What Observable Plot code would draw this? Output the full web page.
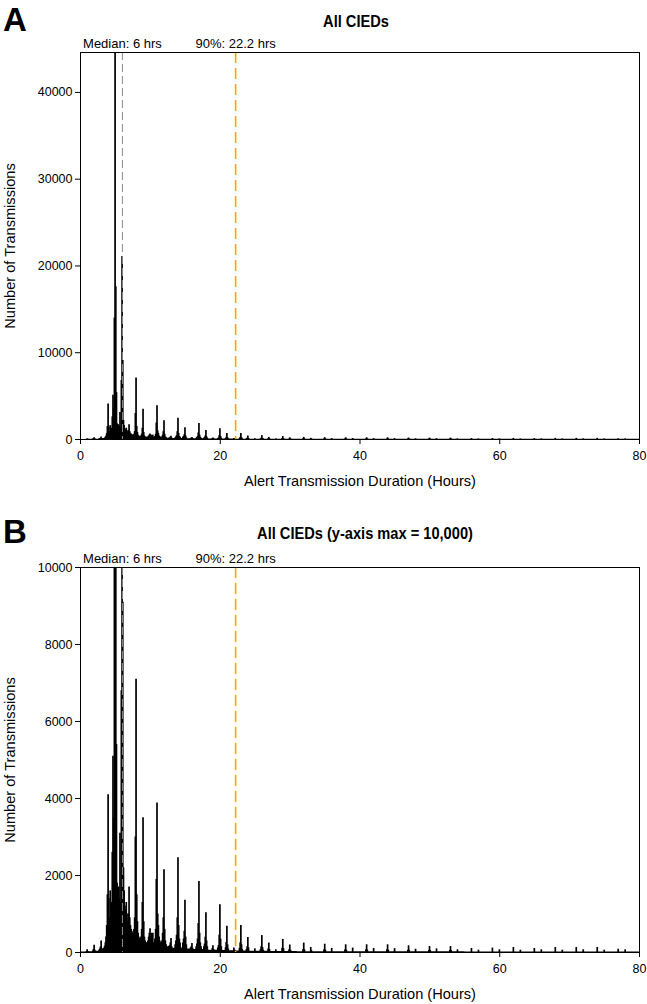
<!DOCTYPE html>
<html>
<head>
<meta charset="utf-8">
<script src="https://cdn.jsdelivr.net/npm/d3@7"></script>
<script src="https://cdn.jsdelivr.net/npm/@observablehq/plot@0.6"></script>
<style>
  html, body { margin: 0; padding: 0; background: #fff; }
  #wrap { position: relative; width: 647px; height: 1004px; overflow: hidden; font-family: "Liberation Sans", Arial, sans-serif; }
  .letter { position: absolute; z-index: 3; font-weight: bold; font-size: 33px; line-height: 1; font-family: "Liberation Sans", Arial, sans-serif; }
  .title { position: absolute; z-index: 3; font-weight: bold; font-size: 17px; line-height: 1; white-space: nowrap; transform: translate(-50%, -50%) scaleX(0.86); font-family: "Liberation Sans Narrow", "Liberation Sans", Arial, sans-serif; }
  .panel { position: absolute; left: 0; z-index: 1; }
</style>
</head>
<body>
<div id="wrap">
  <div class="panel" id="pA" style="top:0px;"></div>
  <div class="panel" id="pB" style="top:500px;"></div>
  <div class="letter" style="left:3px; top:3px;">A</div>
  <div class="title" style="left:356px; top:21px;">All CIEDs</div>
  <div class="letter" style="left:3px; top:515px;">B</div>
  <div class="title" style="left:365px; top:533px;">All CIEDs (y-axis max = 10,000)</div>
</div>
<script>
// Histogram bins (bin start, hours) and counts
const binHours = [
  0.8, 0.9, 1.0,
  1.7, 1.8, 1.9, 2.0,
  2.6, 2.7, 2.8, 2.9, 3.0, 3.1, 3.2, 3.3, 3.4,
  3.5, 3.6, 3.7, 3.8, 3.9, 4.0, 4.1, 4.2, 4.3, 4.4,
  4.5, 4.6, 4.7, 4.8, 4.9, 5.0, 5.1, 5.2, 5.3, 5.4,
  5.5, 5.6, 5.7, 5.8, 5.9, 6.0, 6.1, 6.2, 6.3, 6.4,
  6.5, 6.6, 6.7, 6.8, 6.9, 7.0, 7.1, 7.2, 7.3, 7.4,
  7.5, 7.6, 7.7, 7.8, 7.9, 8.0, 8.1, 8.2, 8.3, 8.4,
  8.5, 8.6, 8.7, 8.8, 8.9, 9.0, 9.1, 9.2, 9.3, 9.4,
  9.5, 9.6, 9.7, 9.8, 9.9, 10.0, 10.1, 10.2, 10.3, 10.4,
  10.5, 10.6, 10.7, 10.8, 10.9, 11.0, 11.1, 11.2, 11.3, 11.4,
  11.5, 11.6, 11.7, 11.8, 11.9, 12.0, 12.1, 12.2,
  12.6, 12.7, 12.8, 12.9, 13.0,
  13.5, 13.6, 13.7, 13.8, 13.9, 14.0, 14.1, 14.2,
  14.6, 14.7, 14.8, 14.9, 15.0, 15.1,
  15.7, 15.8, 15.9, 16.0,
  16.5, 16.6, 16.7, 16.8, 16.9, 17.0, 17.1, 17.2,
  17.6, 17.7, 17.8, 17.9, 18.0, 18.1,
  18.8, 18.9, 19.0,
  19.6, 19.7, 19.8, 19.9, 20.0, 20.1,
  20.7, 20.8, 20.9, 21.0, 21.1,
  21.9, 22.0,
  22.7, 22.8, 22.9, 23.0, 23.1,
  23.7, 23.8, 23.9, 24.0,
  24.9,
  25.7, 25.8, 25.9, 26.0, 26.1,
  26.8, 26.9, 27.0,
  27.9,
  28.8, 28.9, 29.0,
  29.8, 29.9, 30.0,
  31.8, 31.9, 32.0,
  32.9, 33.0,
  34.8, 34.9, 35.0,
  35.9,
  37.8, 37.9, 38.0,
  38.9,
  40.8, 40.9, 41.0,
  41.9,
  43.8, 43.9, 44.0,
  44.9,
  46.8, 46.9, 47.0,
  47.9,
  49.8, 49.9, 50.0,
  50.9,
  52.8, 52.9, 53.0,
  53.9,
  55.9, 56.9, 58.9, 59.9, 61.9, 62.9, 64.9, 65.9,
  67.9, 68.9, 70.9, 71.9, 73.9, 74.9, 76.9, 77.9
];
const binCounts = [
  25, 70, 25,
  40, 80, 190, 60,
  60, 90, 140, 300, 110, 70, 80, 110, 160,
  250, 400, 700, 1500, 4100, 1400, 900, 1600, 1100, 1300,
  2600, 5100, 3500, 14000, 44600, 17600, 5400, 1800, 1500, 1700,
  1400, 3100, 1300, 6800, 21100, 9100, 2200, 1600, 1200, 1100,
  1300, 1000, 800, 1000, 1700, 900, 700, 600, 550, 500,
  500, 600, 900, 3000, 7100, 1500, 800, 500, 400, 350,
  350, 400, 600, 1300, 3500, 800, 400, 300, 250, 250,
  250, 300, 400, 500, 620, 350, 500, 300, 500, 250,
  250, 350, 600, 1900, 3880, 1000, 700, 400, 300, 250,
  250, 300, 500, 900, 2150, 600, 300, 200,
  150, 180, 250, 365, 150,
  200, 300, 450, 900, 2460, 700, 350, 250,
  250, 350, 550, 1360, 400, 200,
  120, 150, 235, 110,
  150, 220, 350, 750, 1845, 500, 250, 150,
  150, 220, 400, 1030, 300, 150,
  100, 175, 80,
  120, 180, 450, 1240, 350, 150,
  120, 260, 680, 200, 90,
  115, 60,
  110, 250, 700, 200, 80,
  80, 150, 390, 120,
  95,
  70, 150, 440, 130, 60,
  90, 245, 80,
  70,
  110, 340, 100,
  70, 195, 60,
  80, 245, 70,
  130, 50,
  70, 215, 60,
  105,
  70, 200, 60,
  115,
  70, 200, 60,
  105,
  70, 200, 60,
  100,
  60, 175, 55,
  85,
  55, 155, 50,
  95,
  55, 155, 50,
  70,
  105, 60, 115, 70, 130, 60, 105, 70,
  130, 60, 130, 70, 130, 60, 85, 70
];
// Low background level of the histogram, per hour
const floorHours = [0,1,2,3,4,5,6,7,8,9,10,11,12,13,14,15,16,17,18,19,20,21,22,23,24,25,26,27,28,29,30,31,32,33,34,35,36,37,38,39,40,41,42,43,44,45,46,47,48,49,50,51,52,53,54,55,56,57,58,59,60,61,62,63,64,65,66,67,68,69,70,71,72,73,74,75,76,77,78,79,80];
const floorCounts = [10,20,35,80,200,200,200,200,200,150,150,150,150,110,120,90,80,80,60,60,50,45,40,40,35,30,30,28,25,25,25,22,22,20,20,20,20,20,20,20,20,20,18,18,18,18,18,18,18,18,18,18,18,18,18,16,16,16,16,16,16,16,16,16,16,16,16,16,16,15,15,15,15,15,15,15,15,15,15,15,15];

const medianHours = 6;
const p90Hours = 22.2;
const medianLabel = "Median: 6 hrs";
const p90Label = "90%: 22.2 hrs";
const xTicks = [0, 20, 40, 60, 80];
const yTicksA = [0, 10000, 20000, 30000, 40000];
const yTicksB = [0, 2000, 4000, 6000, 8000, 10000];
const xLabel = "Alert Transmission Duration (Hours)";
const yLabel = "Number of Transmissions";

const bins = binHours.map((h, i) => ({hour: h, count: binCounts[i]}));
const floor = floorHours.map((h, i) => ({hour: h, count: floorCounts[i]}));
const notes = [{x: medianHours, t: medianLabel}, {x: p90Hours, t: p90Label}];

function panel({yMax, yTicks, height, marginTop, marginBottom}) {
  return Plot.plot({
    width: 647, height, marginLeft: 80, marginRight: 8, marginTop, marginBottom,
    style: {fontFamily: "'Liberation Sans', Arial, sans-serif", fontSize: "12.5px", background: "transparent", color: "black", overflow: "visible"},
    x: {domain: [0, 80]},
    y: {domain: [0, yMax]},
    marks: [
      Plot.areaY(floor, {x: "hour", y: "count", curve: "step-after", fill: "black", clip: true}),
      Plot.ruleX(bins, {x: d => d.hour + 0.05, y1: 0, y2: "count", stroke: "black", strokeWidth: 1.7, clip: true}),
      Plot.ruleX([medianHours], {stroke: "#8c8c8c", strokeDasharray: "8,4", strokeWidth: 1}),
      Plot.ruleX([p90Hours], {stroke: "#ffa500", strokeDasharray: "11,5", strokeWidth: 1.6}),
      Plot.frame({stroke: "black"}),
      Plot.axisY({ticks: yTicks, tickSize: 5, tickPadding: 3, tickFormat: d => String(d), label: null, fontSize: 12.5}),
      Plot.axisX({ticks: xTicks, tickSize: 5, tickPadding: 7, label: null, fontSize: 12.5}),
      Plot.text(notes, {x: "x", text: "t", frameAnchor: "top", lineAnchor: "middle", dy: -9, fontSize: 13}),
      Plot.text([xLabel], {text: d => d, frameAnchor: "bottom", lineAnchor: "middle", dy: 42, fontSize: 14.6}),
      Plot.text([yLabel], {text: d => d, frameAnchor: "left", textAnchor: "middle", lineAnchor: "middle", dx: -70, rotate: -90, fontSize: 14.6})
    ]
  });
}

document.getElementById("pA").append(panel({yMax: 44600, yTicks: yTicksA, height: 500, marginTop: 52, marginBottom: 61}));
document.getElementById("pB").append(panel({yMax: 10000, yTicks: yTicksB, height: 504, marginTop: 67, marginBottom: 52}));
</script>
</body>
</html>
